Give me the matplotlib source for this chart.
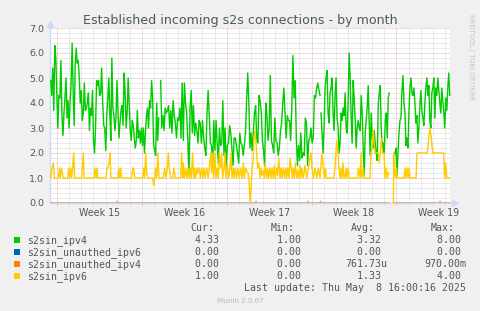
import numpy as np
import matplotlib
matplotlib.use("Agg")
import matplotlib.pyplot as plt
from matplotlib.patches import Rectangle

# ---- data (days since start of the 33 day window) ----
week_labels = ["Week 15", "Week 16", "Week 17", "Week 18", "Week 19"]
first_sunday = 0.58
y_ticks = [0, 1, 2, 3, 4, 5, 6, 7]

# s2sin_ipv4, stored as runs of samples between two times
ipv4_a_span = (0.06, 8.97)
ipv4_a = [4.9, 4.3, 5.4, 3.7, 6.3, 5.8, 4.3, 3.0, 4.3, 4.2,
          5.7, 3.5, 2.7, 3.6, 4.2, 5.0, 3.4, 4.1, 3.0, 4.0,
          4.8, 6.4, 4.5, 3.1, 5.5, 6.2, 5.6, 5.7, 5.0, 4.0,
          4.5, 3.3, 3.6, 4.8, 3.7, 3.8, 4.0, 4.4, 2.9, 3.8,
          3.5, 4.5, 2.5, 2.0, 3.0, 4.9, 4.7, 4.9, 4.3, 4.4,
          5.4, 4.0, 3.1, 3.0, 2.1, 3.5, 4.2, 5.0, 3.6, 2.5,
          5.8, 3.8, 3.5, 2.9, 3.4, 4.9, 3.7, 2.6, 3.2, 3.7,
          3.9, 3.1, 5.2, 4.5, 3.0, 3.6, 5.0, 4.0, 2.9, 2.5,
          3.3, 3.1, 2.6, 2.2, 2.5, 3.7, 2.6, 2.9, 2.4, 3.0,
          2.3, 3.0, 2.0, 2.8, 3.5, 3.8, 3.0, 4.1, 3.8, 4.9,
          4.2, 2.3, 2.1, 1.9, 4.0, 2.5, 3.4]
ipv4_b_span = (9.13, 22.28)
ipv4_b = [4.9, 3.0, 3.5, 2.9, 3.8, 3.6, 3.7, 3.9, 3.0, 3.7,
          2.8, 4.1, 3.5, 3.2, 2.6, 3.4, 3.3, 3.8, 2.6, 4.8,
          2.5, 4.8, 4.0, 3.6, 2.5, 1.1, 3.8, 4.5, 2.8, 3.9,
          2.7, 3.2, 2.9, 2.4, 3.3, 3.2, 2.4, 3.3, 2.6, 2.2,
          1.9, 3.6, 4.5, 3.4, 2.4, 2.3, 1.6, 3.3, 2.1, 3.3,
          2.4, 1.6, 3.0, 2.3, 2.4, 4.1, 1.9, 3.0, 1.5, 2.3,
          2.4, 3.1, 2.8, 2.2, 1.5, 2.6, 2.6, 2.3, 2.0, 1.6,
          2.8, 2.4, 2.3, 1.9, 2.3, 2.8, 4.1, 5.2, 4.0, 2.2,
          2.8, 2.1, 2.9, 3.6, 3.9, 2.5, 2.4, 4.3, 4.1, 3.6,
          2.5, 2.1, 1.5, 4.0, 3.5, 2.5, 3.0, 5.1, 2.5, 2.3,
          2.0, 3.4, 2.5, 2.4, 1.9, 2.2, 2.9, 3.2, 4.0, 4.6,
          3.6, 2.6, 3.5, 3.3, 3.3, 2.5, 3.8, 5.9, 4.2, 4.9,
          2.6, 1.5, 2.3, 1.7, 2.8, 1.8, 2.0, 1.9, 3.4, 3.2,
          1.5, 2.5, 2.6, 3.0, 2.4, 2.6, 4.3, 4.2, 4.6, 4.8,
          4.5, 4.3]
ipv4_c_span = (22.36, 27.99)
ipv4_c = [3.6, 2.8, 2.0, 3.0, 4.6, 5.0, 5.3, 3.6, 3.2, 4.4,
          4.6, 5.0, 3.6, 2.9, 4.3, 5.0, 3.4, 3.0, 2.0, 2.4,
          3.6, 3.3, 3.8, 3.5, 4.4, 3.0, 2.8, 4.0, 6.0, 5.0,
          3.5, 2.4, 4.9, 4.2, 3.4, 2.2, 3.0, 3.3, 3.0, 2.9,
          4.3, 3.6, 2.2, 1.1, 2.8, 3.3, 3.8, 4.7, 3.2, 1.9,
          3.6, 2.6, 2.2, 2.9, 2.4, 2.0, 1.7, 3.9, 4.4, 4.7,
          3.0, 2.2, 2.4, 2.0, 3.3, 3.6, 2.6, 4.2, 4.4]
ipv4_d_span = (28.38, 32.98)
ipv4_d = [1.9, 2.0, 2.2, 1.1, 2.0, 2.8, 3.3, 3.4, 4.5, 5.1,
          4.0, 3.6, 2.3, 2.6, 2.2, 3.6, 4.6, 5.0, 4.4, 4.3,
          4.6, 4.0, 3.2, 3.5, 2.4, 3.0, 3.9, 4.5, 3.7, 3.4,
          3.1, 4.0, 4.6, 5.0, 4.3, 4.7, 3.3, 3.0, 4.4, 4.6,
          5.0, 3.4, 4.6, 4.3, 5.0, 4.5, 4.0, 3.6, 4.6, 4.1,
          3.6, 3.0, 4.2, 3.7, 4.6, 5.2, 4.3]

# s2sin_ipv6 as (time, value) breakpoints, nan = no data
ipv6_t = [0.06, 0.17, 0.28, 0.36, 0.69, 0.77, 0.85, 0.94, 1.02, 1.10,
          1.46, 1.54, 1.62, 1.71, 1.79, 1.87, 1.95, 2.04, 2.61, 2.75,
          2.81, 3.63, 3.71, 3.80, 3.88, 3.96, 4.62, 4.70, 4.79, 4.87,
          4.95, 5.03, 5.58, 5.67, 5.75, 5.83, 5.91, 6.74, 6.82, 6.90,
          6.99, 7.65, 7.73, 7.81, 7.90, 7.98, 8.06, 8.47, 8.56, 8.64,
          8.72, 8.80, 8.89, 8.99, 9.35, 9.46, 9.57, 9.68, 9.76, 9.84,
          9.95, 10.12, 10.23, 10.34, 10.78, 10.86, 10.95, 11.00, 11.08, 11.19,
          11.28, 11.39, 11.47, 11.58, 11.66, 11.77, 11.85, 11.94, 12.02, 12.13,
          12.21, 12.32, 12.40, 12.51, 12.60, 12.71, 12.79, 12.93, 13.04, 13.14,
          13.26, 13.34, 13.42, 13.51, 13.61, 13.70, 13.80, 13.89, 13.97, 14.08,
          14.16, 14.25, 14.36, 14.44, 14.52, 14.63, 14.74, 14.85, 14.93, 15.02,
          15.12, 15.20, 15.29, 15.40, 15.51, 15.62, 15.73, 15.84, 15.95, 16.03,
          16.14, 16.23, 16.34, 16.44, 16.50, 16.58, 16.67, 16.75, 16.83, 16.91,
          17.00, 17.05, 17.13, 17.22, 17.33, 17.41, 17.49, 17.60, 17.68, 17.76,
          17.88, 17.96, 18.04, 18.15, 18.23, 18.32, 18.42, 18.50, 18.59, 18.70,
          18.78, 18.87, 18.98, 19.06, 19.14, 19.25, 19.36, 19.45, 19.53, 19.61,
          19.72, 19.80, 19.91, 19.99, 20.07, 20.15, 20.24, 20.35, 20.44, 20.52,
          20.63, 20.71, 20.79, 20.90, 21.04, 21.18, 21.31, 21.45, 21.53, 21.62,
          21.72, 21.86, 22.00, 22.14, 22.28, 22.44, 22.55, 22.63, 22.72, 22.80,
          23.43, 23.51, 23.65, 23.76, 23.84, 23.93, 24.01, 24.09, 24.17, 24.26,
          24.34, 24.42, 24.50, 24.59, 24.70, 25.36, 25.44, 25.58, 25.66, 25.74,
          25.85, 25.93, 26.40, 26.48, 26.57, 26.67, 26.81, 26.90, 26.98, 27.09,
          27.17, 27.25, 27.33, 27.42, 27.56, 27.64, 27.75, 27.83, 27.94, 28.10,
          28.33, 28.35, 28.41, 28.49, 28.57, 28.65, 29.21, 29.29, 29.37, 29.45,
          29.54, 29.62, 29.70, 30.20, 30.28, 31.13, 31.24, 31.35, 31.46, 31.57,
          32.48, 32.56, 32.65, 32.73, 32.98]
ipv6_v = [1.0, 1.4, 1.6, 1.0, 1.0, 1.4, 1.0, 1.4, 1.2, 1.0,
          1.0, 1.4, 1.0, 1.4, 1.0, 1.4, 2.0, 1.0, 1.0, 2.0,
          1.0, 1.0, 1.4, 1.0, 1.4, 1.0, 1.0, 1.4, 1.4, 1.6,
          2.0, 1.0, 1.0, 1.4, 1.0, 1.4, 1.0, 1.0, 1.4, 1.4,
          1.0, 1.0, 1.4, 1.0, 2.0, 1.2, 1.0, 1.0, 0.7, 1.0,
          1.4, 1.0, 2.0, 1.0, 1.0, 1.4, 1.0, 1.4, 2.0, 1.4,
          1.0, 1.0, 1.4, 1.0, 1.0, 2.0, 1.0, 1.6, 1.0, 1.4,
          1.0, 1.4, 1.0, 1.4, 1.0, 2.0, 1.0, 1.4, 1.0, 1.4,
          1.2, 1.4, 1.0, 1.4, 1.0, 1.4, 1.0, 1.4, 1.0, 1.4,
          2.0, 1.2, 2.0, 1.0, 2.0, 1.0, 1.4, 1.0, 2.0, 1.4,
          2.0, 1.0, 1.4, 2.0, 1.0, 1.5, 1.0, 1.4, 2.0, 1.0,
          1.4, 1.0, 1.4, 1.0, 1.4, 1.0, 1.4, 1.0, 1.6, 1.0,
          1.4, 1.3, 1.2, 0.8, 0.0, 0.5, 1.4, 1.6, 2.6, 2.9,
          2.4, 2.0, 1.4, 1.6, 1.0, 1.4, 1.1, 1.3, 1.0, 1.6,
          1.0, 1.4, 1.0, 1.4, 1.0, 1.4, 1.0, 1.5, 1.0, 1.4,
          1.1, 1.8, 1.0, 1.4, 1.0, 1.4, 1.0, 1.4, 1.0, 1.4,
          1.0, 1.8, 1.4, 1.0, 1.4, 1.0, 1.6, 1.0, 1.3, 1.0,
          1.5, 1.0, 1.4, 1.0, 1.5, 1.0, 1.4, 1.8, 2.0, 1.4,
          1.0, 1.4, 1.0, 1.4, 1.0, 2.0, 1.4, 1.0, 1.4, 1.0,
          1.0, 1.4, 2.5, 2.0, 1.4, 1.0, 1.4, 1.0, 1.6, 1.0,
          1.0, 1.4, 1.0, 1.4, 1.0, 1.0, 1.4, 1.0, 2.0, 1.0,
          1.4, 1.0, 1.0, 2.0, 2.2, 2.9, 2.0, 2.0, 2.0, 2.0,
          1.6, 2.0, 2.6, 2.0, 2.0, 1.0, 1.4, 1.0, 1.2, np.nan,
          0.0, 2.0, 1.6, 1.0, 1.4, 1.0, 1.0, 1.4, 1.0, 1.4,
          1.0, 1.4, 1.0, 1.0, 2.0, 2.0, 2.6, 3.0, 2.6, 2.0,
          2.0, 1.0, 1.6, 1.0, 1.0]

# s2sin_unauthed_ipv4 / ipv6 (almost always zero)
unauth4_t = [0.06, 5.45, 5.53, 5.61, 16.92, 17.00, 17.08, 21.23, 21.31, 21.39,
             22.25, 22.33, 22.41, 27.99, 28.10, 28.38, 32.10, 32.18, 32.26, 32.98]
unauth4_v = [0.0, 0.0, 0.08, 0.0, 0.0, 0.08, 0.0, 0.0, 0.08, 0.0,
             0.0, 0.08, 0.0, 0.0, np.nan, 0.0, 0.0, 0.08, 0.0, 0.0]
unauth6_t = [0.06, 27.99, 28.10, 28.38, 32.98]
unauth6_v = [0.0, 0.0, np.nan, 0.0, 0.0]

names = ["s2sin_ipv4", "s2sin_unauthed_ipv6", "s2sin_unauthed_ipv4", "s2sin_ipv6"]
colors = ["#00cc00", "#0066b3", "#ff8000", "#ffcc00"]
cur = ["4.33", "0.00", "0.00", "1.00"]
mins = ["1.00", "0.00", "0.00", "0.00"]
avg = ["3.32", "0.00", "761.73u", "1.33"]
maxs = ["8.00", "0.00", "970.00m", "4.00"]

W, H = 481, 311
TXT = "#555555"


def fx(px):
    return px / W


def fy(py):
    return 1 - py / H


fig = plt.figure(figsize=(W / 100, H / 100), dpi=100, facecolor="#f0f0f0")
ax = fig.add_axes([fx(50), fy(203), 400 / W, 175 / H])
ax.set_facecolor("white")
ax.set_xlim(0, 33.0)
ax.set_ylim(0, 7)
for s in ax.spines.values():
    s.set_visible(False)

# grid
dot = (0, (1, 1))
minor_c = "#d8d8d8"
major_c = "#ebb0b0"
weeks = [first_sunday + 7 * k for k in range(len(week_labels))]
for d in np.arange(first_sunday, 33.0, 1.0):
    if min(abs(d - w) for w in weeks) > 0.01:
        ax.axvline(d, color=minor_c, lw=0.72, ls=dot, zorder=1)
for w in weeks:
    ax.axvline(w, color=major_c, lw=0.72, ls=dot, zorder=1.1)
for v in np.arange(0.2, 7.0, 0.2):
    if abs(v - round(v)) > 0.01:
        ax.axhline(v, color=minor_c, lw=0.72, ls=dot, zorder=1)
for v in y_ticks[1:]:
    ax.axhline(v, color=major_c, lw=0.72, ls=dot, zorder=1.1)

# axis lines and arrows
axis_c = "#cfd6f8"
ax.plot([0, 0], [0, 7.2], color=axis_c, lw=0.9, clip_on=False, zorder=2)
ax.plot([0, 33.3], [0, 0], color=axis_c, lw=0.9, clip_on=False, zorder=2)
ax.plot([0], [7.18], marker="^", ms=4, color=axis_c, clip_on=False, zorder=2)
ax.plot([33.45], [0], marker=">", ms=4, color=axis_c, clip_on=False, zorder=2)

# series
lw = 1.0
for span, vals in [(ipv4_a_span, ipv4_a), (ipv4_b_span, ipv4_b),
                   (ipv4_c_span, ipv4_c), (ipv4_d_span, ipv4_d)]:
    t = np.linspace(span[0], span[1], len(vals))
    ax.plot(t, vals, color=colors[0], lw=lw, zorder=3, clip_on=False)
ax.plot(unauth6_t, unauth6_v, color=colors[1], lw=lw, zorder=3.1)
ax.plot(unauth4_t, unauth4_v, color=colors[2], lw=lw, zorder=3.2, alpha=0.6)
ax.plot(ipv6_t, ipv6_v, color=colors[3], lw=lw, zorder=3.3, clip_on=False)

# ticks and labels
ax.set_xticks(weeks)
ax.set_xticks(np.arange(first_sunday, 33.0, 1.0), minor=True)
ax.tick_params(axis="x", which="major", length=1.5, width=0.7, color=major_c, labelbottom=False)
ax.tick_params(axis="x", which="minor", length=1.5, width=0.7, color=minor_c)
ax.set_yticks(y_ticks)
ax.set_yticklabels([f"{v:.1f}" for v in y_ticks], fontsize=6.8, color=TXT)
ax.tick_params(axis="y", length=0, pad=4.3)
for w, lab in zip(weeks, week_labels):
    ax.text(w + 3.5, -0.073, lab, transform=ax.get_xaxis_transform(),
            ha="center", va="baseline", fontsize=6.85, color=TXT)

# title and watermark
fig.text(fx(240), fy(24), "Established incoming s2s connections - by month",
         ha="center", va="baseline", fontsize=9.1, color=TXT)
fig.text(fx(471.5), fy(14), "RRDTOOL / TOBI OETIKER", rotation=270,
         ha="center", va="top", fontsize=4.9, color="#c4c4c4")

# legend table
mono = {"family": "DejaVu Sans Mono", "fontsize": 7.1, "color": TXT}
for x, h in zip([190.7, 270.7, 351, 430.7], ["Cur:", "Min:", "Avg:", "Max:"]):
    fig.text(fx(x), fy(231), h, ha="left", va="baseline", **mono)

row_base = [242.7, 255.0, 267.0, 279.0]
col_x = [183.1, 264.8, 344.8, 424.8]


def field(s):
    if not s[-1].isalpha():
        s = s + " "
    return s.rjust(7)


for i, name in enumerate(names):
    yb = row_base[i]
    fig.patches.append(Rectangle((fx(14), fy(yb)), 6 / W, 6 / H, transform=fig.transFigure,
                                 facecolor=colors[i], edgecolor="none"))
    fig.text(fx(26.7), fy(yb), name, ha="left", va="baseline", **mono)
    for x, col in zip(col_x, [cur, mins, avg, maxs]):
        fig.text(fx(x), fy(yb), field(col[i]), ha="left", va="baseline", **mono)

fig.text(fx(466), fy(290.7), "Last update: Thu May  8 16:00:16 2025",
         ha="right", va="baseline", **mono)
fig.text(fx(240), fy(303.3), "Munin 2.0.67", ha="center", va="baseline",
         fontsize=5.1, color="#bbbbbb")

fig.savefig("out.png", dpi=100, facecolor=fig.get_facecolor())
